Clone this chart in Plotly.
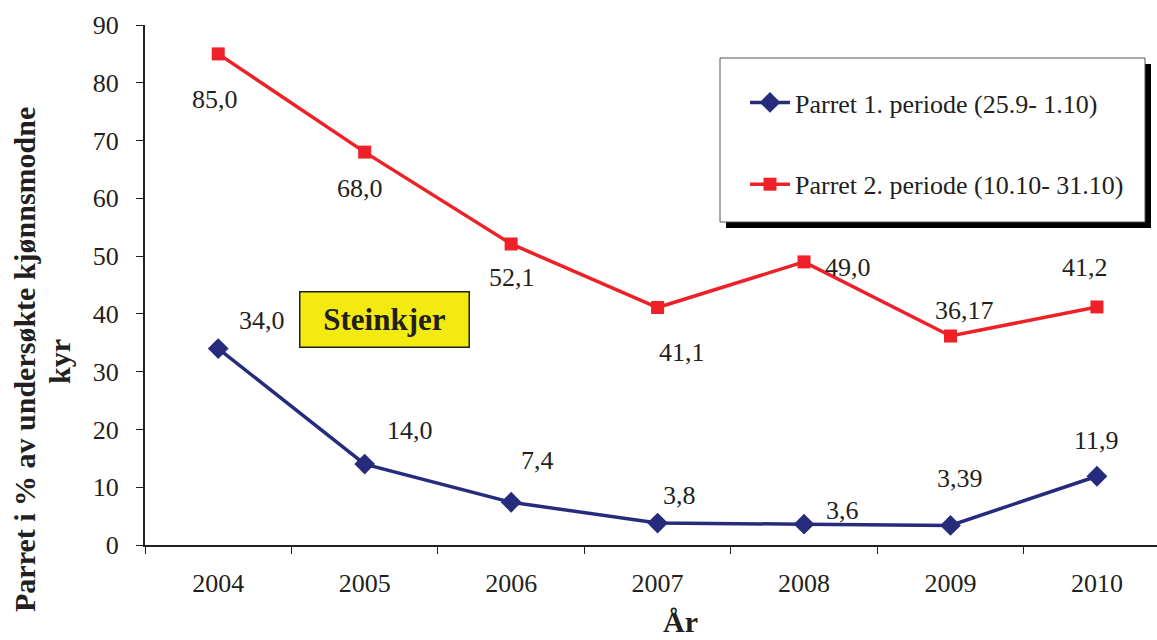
import plotly.graph_objects as go

years = ["2004", "2005", "2006", "2007", "2008", "2009", "2010"]
periode1 = [34.0, 14.0, 7.4, 3.8, 3.6, 3.39, 11.9]
periode2 = [85.0, 68.0, 52.1, 41.1, 49.0, 36.17, 41.2]
labels1 = ["34,0", "14,0", "7,4", "3,8", "3,6", "3,39", "11,9"]
labels2 = ["85,0", "68,0", "52,1", "41,1", "49,0", "36,17", "41,2"]
name1 = "Parret 1. periode (25.9- 1.10)"
name2 = "Parret 2. periode (10.10- 31.10)"

BLUE = "#262B7C"
RED = "#EE2128"
INK = "#231F20"
SERIF = "Liberation Serif, Times New Roman, serif"

fig = go.Figure()
fig.add_trace(go.Scatter(
    x=years, y=periode1, name=name1, mode="lines+markers",
    line=dict(color=BLUE, width=3.5),
    marker=dict(symbol="diamond", size=16, color=BLUE),
    legendgroup="a",
))
fig.add_trace(go.Scatter(
    x=years, y=periode2, name=name2, mode="lines+markers",
    line=dict(color=RED, width=3.5),
    marker=dict(symbol="square", size=13, color=RED),
    legendgroup="b",
))

# value labels, offset from each point (pixels); x uses category index
off1 = [(44, 28), (45, 34), (26, 42), (22, 28), (38, 14), (9, 47), (0, 36)]
off2 = [(-3, -46), (-5, -36), (1, -34), (24, -45), (44, -6), (14, 26), (-12, 39)]
for i, (y, t, (dx, dy)) in enumerate(zip(periode1, labels1, off1)):
    fig.add_annotation(x=i, y=y, text=t, showarrow=False, xshift=dx, yshift=dy,
                       xanchor="center", yanchor="middle",
                       font=dict(family=SERIF, size=26, color=INK))
for i, (y, t, (dx, dy)) in enumerate(zip(periode2, labels2, off2)):
    fig.add_annotation(x=i, y=y, text=t, showarrow=False, xshift=dx, yshift=dy,
                       xanchor="center", yanchor="middle",
                       font=dict(family=SERIF, size=26, color=INK))

W, H = 1157, 640
L, T, B = 145, 25, 95

def px(xp):
    return (xp - L) / (W - L)

def py(yp):
    return (H - B - yp) / (H - B - T)

# legend frame with drop shadow
fig.add_shape(type="rect", xref="paper", yref="paper",
              x0=px(726), x1=px(1151), y0=py(228), y1=py(64),
              fillcolor="black", line=dict(width=0), layer="above")
fig.add_shape(type="rect", xref="paper", yref="paper",
              x0=px(720), x1=px(1145), y0=py(222), y1=py(58),
              fillcolor="white", line=dict(color="#555555", width=1), layer="above")

# Steinkjer label box
fig.add_annotation(xref="paper", yref="paper", x=px(384), y=py(319),
                   xanchor="center", yanchor="middle",
                   text="<b>Steinkjer</b>", showarrow=False,
                   width=166, height=52, bgcolor="#F2EA10",
                   bordercolor=INK, borderwidth=1.5,
                   font=dict(family=SERIF, size=31, color=INK))

# axis titles
fig.add_annotation(xref="paper", yref="paper", x=px(25), y=py(360),
                   xanchor="center", yanchor="middle",
                   text="<b>Parret i % av undersøkte kjønnsmodne</b>",
                   textangle=-90, showarrow=False,
                   font=dict(family=SERIF, size=30, color=INK))
fig.add_annotation(xref="paper", yref="paper", x=px(60), y=py(362),
                   xanchor="center", yanchor="middle",
                   text="<b>kyr</b>", textangle=-90, showarrow=False,
                   font=dict(family=SERIF, size=30, color=INK))
fig.add_annotation(xref="paper", yref="paper", x=px(680), y=py(621),
                   xanchor="center", yanchor="middle",
                   text="<b>År</b>", showarrow=False,
                   font=dict(family=SERIF, size=30, color=INK))

fig.update_layout(
    width=W, height=H,
    margin=dict(l=L, r=0, t=T, b=B),
    paper_bgcolor="white", plot_bgcolor="white",
    showlegend=True,
    legend=dict(
        x=px(745), y=py(79), xanchor="left", yanchor="top",
        bgcolor="rgba(0,0,0,0)", borderwidth=0,
        tracegroupgap=45,
        font=dict(family=SERIF, size=26, color=INK),
        itemwidth=40,
    ),
    xaxis=dict(
        type="category", range=[-0.5, 6.41], tickson="boundaries",
        showline=True, linecolor=INK, linewidth=2,
        ticks="outside", ticklen=7, tickcolor=INK, tickwidth=1,
        showgrid=False, zeroline=False, ticklabelstandoff=14,
        tickfont=dict(family=SERIF, size=26, color=INK),
    ),
    yaxis=dict(
        range=[0, 90], dtick=10,
        showline=True, linecolor=INK, linewidth=2,
        ticks="outside", ticklen=7, tickcolor=INK, tickwidth=1,
        showgrid=False, zeroline=False, ticklabelstandoff=12,
        tickfont=dict(family=SERIF, size=26, color=INK),
    ),
)

fig.write_html("out.html")
